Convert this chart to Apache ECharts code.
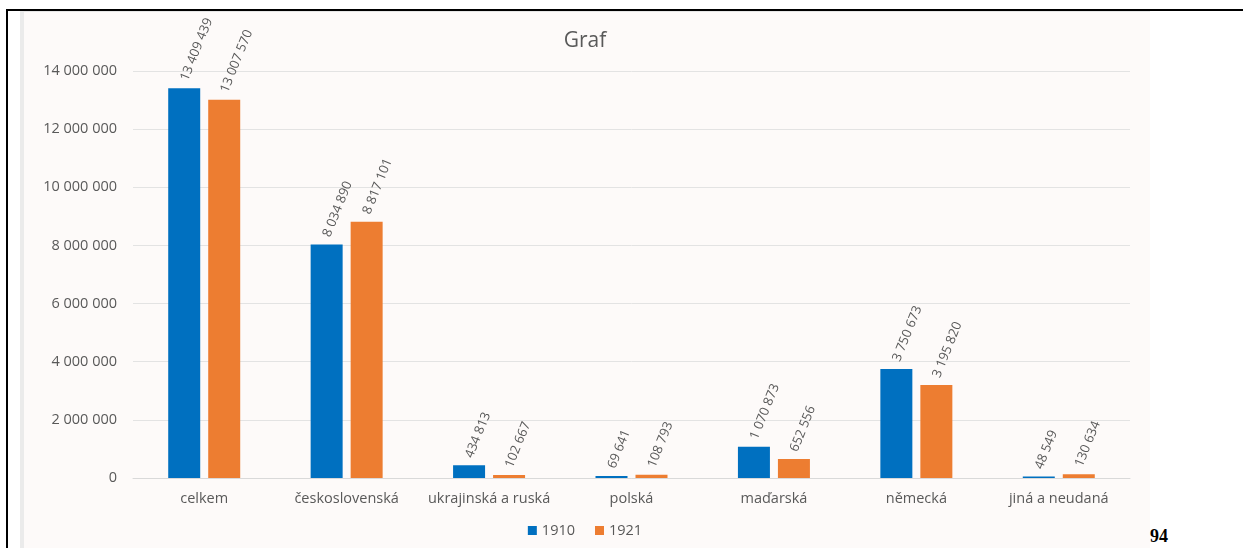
<!DOCTYPE html>
<html>
<head>
<meta charset="utf-8">
<script src="https://cdn.jsdelivr.net/npm/echarts@6/dist/echarts.min.js"></script>
<style>
  html, body { margin: 0; padding: 0; background: #fff; width: 1243px; height: 548px; overflow: hidden; }
  #topline { position: absolute; left: 6px; top: 9px; width: 1237px; height: 2px; background: #000; }
  #leftline { position: absolute; left: 6px; top: 9px; width: 2px; height: 539px; background: #000; }
  #panel { position: absolute; left: 20px; top: 11px; width: 1130px; height: 537px; background: #fdfaf9;
           border-left: 4px solid #ebebeb; border-top: 1px solid #e6e6e6; box-sizing: border-box; }
  #chart { position: absolute; left: 20px; top: 11px; width: 1130px; height: 537px; }
  #page { position: absolute; left: 1150px; top: 526px; font: bold 18px "Liberation Serif", serif; color: #000; }
</style>
</head>
<body>
<div id="topline"></div>
<div id="leftline"></div>
<div id="panel"></div>
<div id="chart"></div>
<div id="page">94</div>
<script>
var categories = ['celkem', 'československá', 'ukrajinská a ruská', 'polská', 'maďarská', 'německá', 'jiná a neudaná'];
var data1910 = [13409439, 8034890, 434813, 69641, 1070873, 3750673, 48549];
var data1921 = [13007570, 8817101, 102667, 108793, 652556, 3195820, 130634];

function fmt(v) {
  return String(v).replace(/\B(?=(\d{3})+(?!\d))/g, ' ');
}

var chart = echarts.init(document.getElementById('chart'));

var labelOpt = {
  show: true,
  position: 'top',
  distance: 8,
  rotate: 68,
  align: 'left',
  verticalAlign: 'middle',
  color: '#595959',
  fontFamily: 'Open Sans',
  fontSize: 13,
  formatter: function (p) { return fmt(p.value); }
};

var option = {
  animation: false,
  backgroundColor: 'transparent',
  color: ['#0070C0', '#ED7D31'],
  title: {
    text: 'Graf',
    left: 'center',
    top: 15,
    textStyle: { color: '#595959', fontFamily: 'Open Sans', fontSize: 21, fontWeight: 'normal' }
  },
  legend: {
    data: ['1910', '1921'],
    bottom: 5,
    left: 'center',
    itemWidth: 9,
    itemHeight: 9,
    itemGap: 20,
    icon: 'rect',
    textStyle: { color: '#595959', fontFamily: 'Open Sans', fontSize: 14.5 }
  },
  grid: { left: 113, right: 20, top: 60, bottom: 70, containLabel: false },
  xAxis: {
    type: 'category',
    data: categories,
    axisLine: { lineStyle: { color: '#d9d9d9' } },
    axisTick: { show: false },
    axisLabel: { color: '#595959', fontFamily: 'Open Sans', fontSize: 14.5, margin: 13, interval: 0 }
  },
  yAxis: {
    type: 'value',
    min: 0,
    max: 14000000,
    interval: 2000000,
    axisLine: { show: false },
    axisTick: { show: false },
    splitLine: { lineStyle: { color: '#e3e3e3' } },
    axisLabel: { color: '#595959', fontFamily: 'Open Sans', fontSize: 14.5, margin: 16, formatter: fmt }
  },
  series: [
    { name: '1910', type: 'bar', data: data1910, barWidth: 32, barGap: '25%', label: labelOpt },
    { name: '1921', type: 'bar', data: data1921, barWidth: 32, label: labelOpt }
  ]
};

chart.setOption(option);
</script>
</body>
</html>
